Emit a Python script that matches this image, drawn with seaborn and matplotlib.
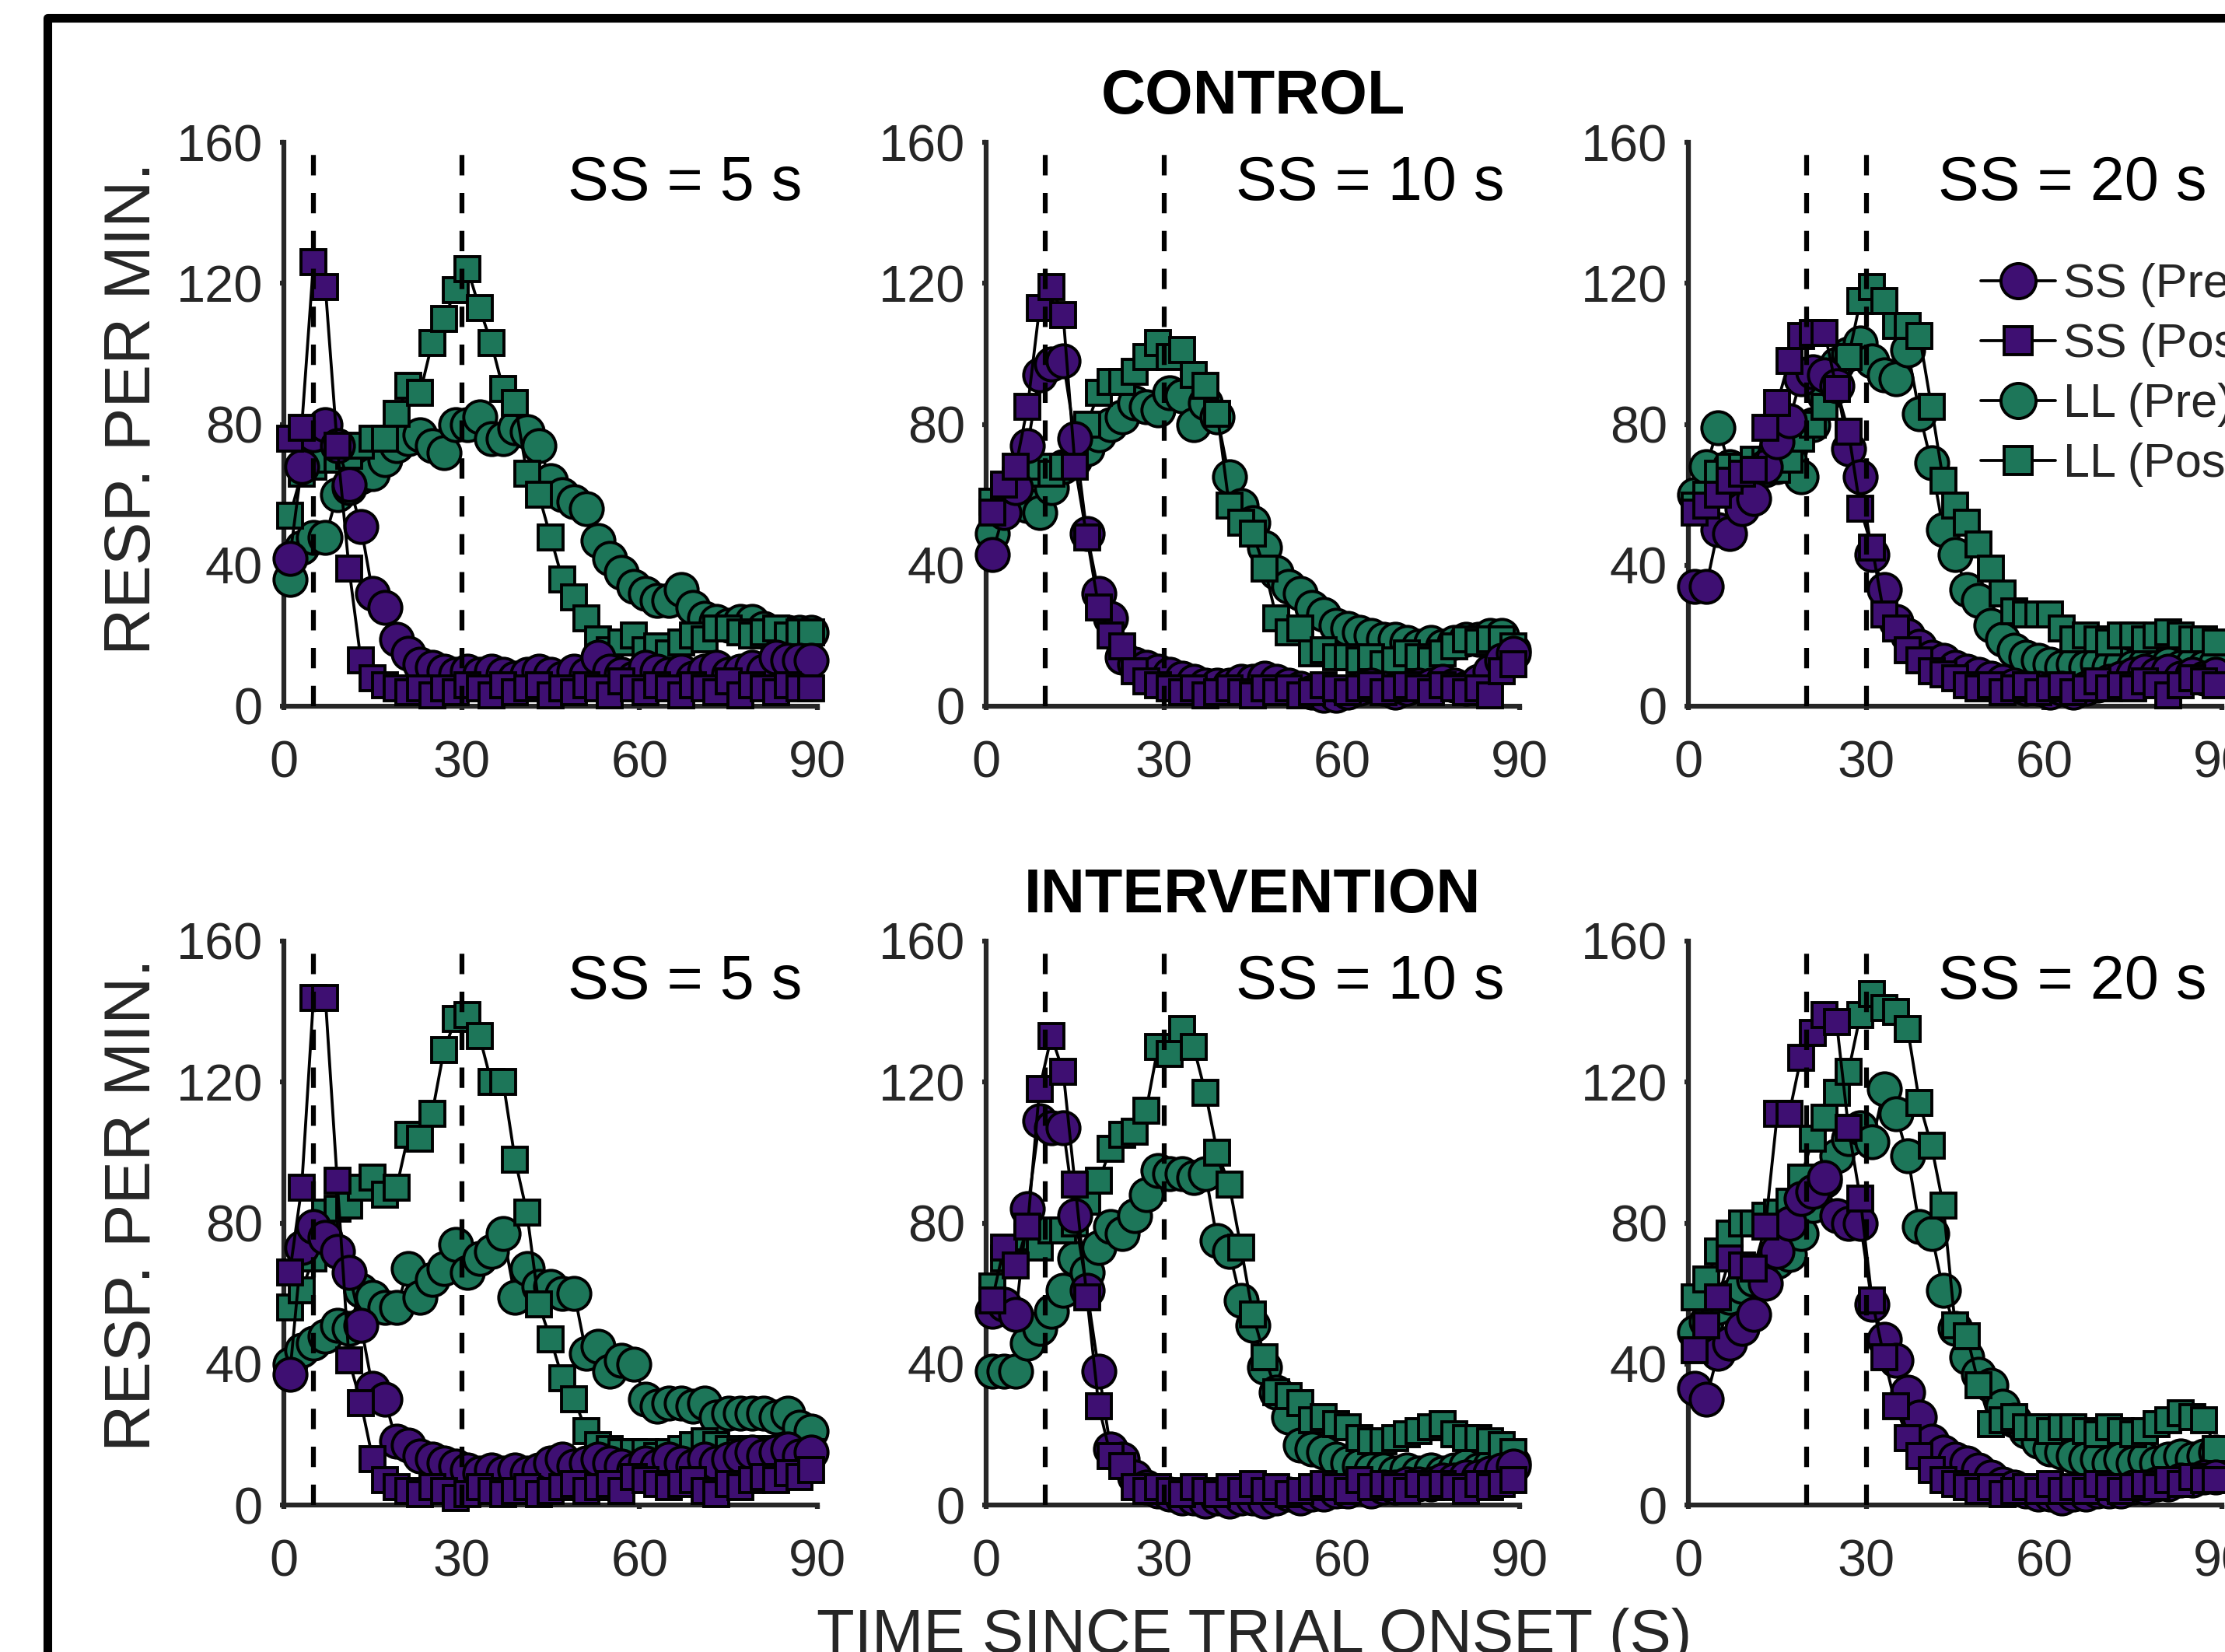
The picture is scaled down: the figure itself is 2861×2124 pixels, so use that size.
import matplotlib.pyplot as plt
from matplotlib.lines import Line2D
from matplotlib.patches import Rectangle
import pandas as pd
import seaborn as sns

# 2-s bins (bin centres, s)
time_s = [1, 3, 5, 7, 9, 11, 13, 15, 17,
          19, 21, 23, 25, 27, 29, 31, 33, 35,
          37, 39, 41, 43, 45, 47, 49, 51, 53,
          55, 57, 59, 61, 63, 65, 67, 69, 71,
          73, 75, 77, 79, 81, 83, 85, 87, 89]

# CONTROL, SS = 5 s
ctrl5_ss_pre = [42, 68, 77, 80, 74, 63, 51, 32, 28,
                19, 15, 12, 11, 10, 9, 10, 9, 10,
                9, 8, 9, 10, 9, 8, 10, 9, 14,
                10, 9, 8, 11, 10, 9, 10, 8, 10,
                11, 9, 10, 11, 10, 14, 13, 13, 13]
ctrl5_ss_post = [76, 79, 126, 119, 74, 39, 13, 8, 6,
                 5, 4, 5, 3, 5, 4, 6, 5, 3,
                 6, 4, 5, 6, 3, 5, 4, 6, 5,
                 3, 7, 5, 4, 6, 5, 3, 6, 5,
                 4, 7, 3, 6, 5, 4, 6, 5, 5]
ctrl5_ll_pre = [36, 45, 48, 48, 60, 62, 65, 66, 70,
                74, 76, 77, 74, 72, 80, 80, 82, 76,
                76, 79, 78, 74, 64, 60, 58, 56, 47,
                42, 38, 34, 32, 30, 30, 33, 28, 25,
                24, 23, 24, 24, 22, 21, 21, 21, 21]
ctrl5_ll_post = [54, 66, 68, 70, 70, 71, 74, 76, 76,
                 83, 91, 89, 103, 110, 118, 124, 113, 103,
                 90, 86, 66, 60, 48, 36, 31, 25, 19,
                 16, 18, 20, 16, 17, 15, 18, 20, 19,
                 22, 22, 21, 20, 21, 22, 20, 21, 21]

# CONTROL, SS = 10 s
ctrl10_ss_pre = [43, 55, 62, 74, 94, 97, 98, 76, 49,
                 32, 25, 14, 12, 11, 10, 9, 8, 7,
                 6, 6, 6, 7, 7, 8, 7, 6, 5,
                 4, 3, 3, 4, 5, 6, 5, 4, 5,
                 6, 6, 7, 6, 5, 7, 10, 13, 15]
ctrl10_ss_post = [55, 63, 68, 85, 113, 119, 111, 68, 48,
                  28, 20, 17, 10, 7, 6, 5, 4, 5,
                  3, 4, 5, 4, 3, 5, 4, 5, 3,
                  4, 6, 5, 4, 5, 6, 4, 5, 6,
                  5, 4, 6, 5, 4, 5, 3, 10, 12]
ctrl10_ll_pre = [49, 58, 60, 57, 55, 62, 68, 70, 73,
                 77, 80, 82, 86, 85, 84, 89, 88, 80,
                 86, 82, 65, 57, 52, 45, 38, 34, 32,
                 28, 26, 23, 22, 21, 20, 19, 19, 18,
                 17, 18, 17, 18, 19, 19, 20, 20, 16]
ctrl10_ll_post = [58, 62, 64, 66, 68, 66, 68, 70, 80,
                  89, 92, 92, 95, 99, 103, 99, 101, 94,
                  91, 83, 57, 52, 49, 39, 25, 21, 22,
                  15, 16, 14, 14, 13, 14, 12, 13, 15,
                  14, 13, 15, 17, 19, 18, 19, 19, 17]

# CONTROL, SS = 20 s
ctrl20_ss_pre = [34, 34, 50, 49, 56, 59, 68, 75, 81,
                 93, 95, 94, 91, 73, 65, 43, 33, 24,
                 20, 17, 14, 13, 11, 10, 9, 8, 7,
                 6, 5, 5, 4, 5, 4, 5, 6, 7,
                 8, 9, 10, 9, 10, 8, 9, 8, 9]
ctrl20_ss_post = [55, 57, 60, 64, 66, 67, 79, 86, 98,
                  105, 106, 106, 90, 78, 56, 45, 26, 22,
                  16, 13, 10, 9, 8, 6, 5, 6, 4,
                  5, 6, 4, 5, 6, 4, 5, 7, 5,
                  6, 5, 7, 6, 3, 6, 8, 7, 6]
ctrl20_ll_pre = [60, 68, 79, 68, 66, 66, 67, 68, 70,
                 65, 80, 88, 97, 100, 103, 98, 94, 93,
                 101, 83, 69, 50, 43, 33, 30, 23, 19,
                 16, 14, 13, 12, 11, 12, 11, 12, 11,
                 12, 11, 12, 11, 12, 11, 12, 11, 12]
ctrl20_ll_post = [57, 60, 66, 68, 68, 70, 70, 67, 70,
                  76, 80, 85, 92, 99, 115, 119, 115, 108,
                  108, 105, 85, 64, 57, 52, 46, 39, 32,
                  27, 26, 26, 26, 22, 19, 20, 19, 18,
                  20, 20, 19, 20, 21, 20, 19, 19, 18]

# INTERVENTION, SS = 5 s
int5_ss_pre = [37, 73, 79, 76, 72, 66, 51, 33, 30,
               18, 17, 14, 13, 12, 11, 10, 9, 10,
               9, 10, 9, 10, 12, 13, 11, 12, 13,
               12, 11, 10, 12, 11, 13, 12, 11, 13,
               12, 13, 14, 15, 14, 15, 16, 14, 15]
int5_ss_post = [66, 90, 144, 144, 92, 41, 29, 13, 7,
                5, 4, 3, 5, 4, 2, 3, 5, 4,
                3, 4, 5, 3, 4, 5, 6, 4, 5,
                6, 4, 8, 7, 6, 5, 6, 7, 4,
                3, 6, 5, 7, 8, 7, 9, 8, 10]
int5_ll_pre = [40, 44, 46, 48, 51, 50, 61, 59, 56,
               56, 67, 59, 64, 67, 74, 66, 70, 72,
               77, 59, 67, 62, 62, 60, 60, 43, 45,
               38, 41, 40, 30, 28, 29, 29, 28, 29,
               25, 26, 26, 26, 26, 25, 26, 22, 21]
int5_ll_post = [56, 61, 70, 83, 84, 85, 90, 93, 88,
                90, 105, 104, 111, 129, 138, 139, 133, 120,
                120, 98, 83, 57, 47, 36, 30, 21, 17,
                16, 15, 15, 15, 14, 15, 16, 17, 18,
                17, 16, 15, 16, 15, 16, 15, 14, 15]

# INTERVENTION, SS = 10 s
int10_ss_pre = [55, 57, 54, 84, 109, 107, 107, 82, 61,
                38, 16, 13, 8, 5, 4, 3, 2, 2,
                1, 2, 1, 2, 2, 1, 2, 3, 2,
                3, 3, 4, 4, 5, 4, 5, 5, 6,
                6, 6, 7, 7, 8, 8, 9, 10, 11]
int10_ss_post = [58, 73, 68, 79, 118, 133, 123, 91, 59,
                 28, 14, 11, 5, 4, 5, 4, 3, 5,
                 4, 3, 5, 4, 6, 4, 5, 3, 4,
                 5, 6, 5, 4, 7, 5, 6, 5, 4,
                 6, 5, 6, 5, 4, 6, 5, 6, 7]
int10_ll_pre = [38, 38, 38, 46, 50, 55, 61, 70, 66,
                73, 79, 77, 82, 88, 95, 94, 94, 93,
                94, 75, 72, 58, 51, 39, 32, 25, 17,
                16, 15, 13, 12, 11, 10, 10, 9, 10,
                9, 10, 9, 10, 11, 10, 11, 11, 12]
int10_ll_post = [62, 70, 72, 76, 73, 78, 78, 80, 86,
                 92, 101, 105, 106, 112, 130, 128, 135, 130,
                 117, 100, 91, 73, 54, 42, 32, 31, 29,
                 24, 25, 23, 22, 19, 18, 18, 19, 20,
                 21, 22, 23, 20, 19, 19, 18, 17, 15]

# INTERVENTION, SS = 20 s
int20_ss_pre = [33, 30, 43, 46, 50, 54, 63, 72, 80,
                87, 89, 93, 82, 80, 80, 57, 47, 41,
                32, 25, 18, 15, 13, 12, 10, 8, 6,
                5, 4, 3, 3, 2, 3, 3, 4, 4,
                4, 5, 5, 6, 6, 7, 7, 8, 8]
int20_ss_post = [44, 51, 59, 70, 68, 67, 79, 111, 111,
                 127, 134, 139, 137, 107, 87, 58, 42, 28,
                 19, 14, 10, 7, 6, 5, 4, 5, 3,
                 4, 5, 4, 6, 4, 5, 4, 6, 5,
                 4, 5, 6, 5, 7, 6, 8, 7, 7]
int20_ll_pre = [49, 52, 56, 59, 62, 64, 67, 69, 71,
                77, 85, 92, 99, 104, 107, 103, 118, 111,
                99, 79, 77, 61, 50, 42, 37, 34, 28,
                24, 21, 18, 16, 15, 14, 13, 13, 12,
                13, 12, 13, 12, 13, 14, 13, 14, 15]
int20_ll_post = [59, 64, 72, 77, 80, 80, 82, 83, 86,
                 93, 104, 110, 117, 123, 139, 145, 141, 140,
                 135, 114, 102, 85, 51, 48, 34, 23, 24,
                 25, 22, 22, 21, 22, 22, 21, 20, 22,
                 21, 20, 21, 23, 24, 26, 25, 24, 16]

ss_delays = [5, 10, 20]
lever_delay = 30
row_titles = ["CONTROL", "INTERVENTION"]
series_labels = ["SS (Pre)", "SS (Post)", "LL (Pre)", "LL (Post)"]

panels = [
    [(ctrl5_ss_pre, ctrl5_ss_post, ctrl5_ll_pre, ctrl5_ll_post),
     (ctrl10_ss_pre, ctrl10_ss_post, ctrl10_ll_pre, ctrl10_ll_post),
     (ctrl20_ss_pre, ctrl20_ss_post, ctrl20_ll_pre, ctrl20_ll_post)],
    [(int5_ss_pre, int5_ss_post, int5_ll_pre, int5_ll_post),
     (int10_ss_pre, int10_ss_post, int10_ll_pre, int10_ll_post),
     (int20_ss_pre, int20_ss_post, int20_ll_pre, int20_ll_post)],
]

PURPLE = "#3e0f72"
GREEN = "#1d7659"
INK = "#262626"

sns.set_theme(style="ticks")
plt.rcParams["font.family"] = ["Liberation Sans", "DejaVu Sans"]
plt.rcParams["axes.linewidth"] = 4.5
plt.rcParams["axes.edgecolor"] = INK

W, H = 2861, 2124
fig = plt.figure(figsize=(W / 100, H / 100), dpi=100)

col_left = [365, 1268, 2171]
row_bottom = [908, 1935]
ax_w, ax_h = 686, 725

# (face colour, marker, marker size) per series; LL drawn first so SS sits on top
styles = {
    "SS (Pre)": (PURPLE, "o", 30.5),
    "SS (Post)": (PURPLE, "s", 23.5),
    "LL (Pre)": (GREEN, "o", 30.5),
    "LL (Post)": (GREEN, "s", 23.5),
}
draw_order = [2, 3, 0, 1]
line_w = 2.7
edge_w = 2.8

for r in range(2):
    for c in range(3):
        ax = fig.add_axes([col_left[c] / W, 1 - row_bottom[r] / H, ax_w / W, ax_h / H])
        values = panels[r][c]
        for i in draw_order:
            label = series_labels[i]
            face, marker, size = styles[label]
            df = pd.DataFrame({"t": time_s, "rate": values[i]})
            sns.lineplot(data=df, x="t", y="rate", ax=ax, color="black", lw=line_w,
                         marker=marker, markersize=size, markerfacecolor=face,
                         markeredgecolor="black", markeredgewidth=edge_w,
                         clip_on=False, zorder=3, legend=False)
        for xv in (ss_delays[c], lever_delay):
            ax.axvline(xv, ymin=0, ymax=1, color="black", lw=4.5,
                       ls=(0, (4.2, 3.6)), zorder=5)
        ax.set_xlim(0, 90)
        ax.set_ylim(0, 160)
        ax.set_xticks([0, 30, 60, 90])
        ax.set_yticks([0, 40, 80, 120, 160])
        ax.set_xlabel("")
        ax.set_ylabel("")
        ax.tick_params(axis="both", direction="out", length=3.6, width=4.5,
                       color=INK, labelsize=48, labelcolor=INK)
        ax.tick_params(axis="x", pad=28)
        ax.tick_params(axis="y", pad=16)
        sns.despine(ax=ax)
        ax.text(0.972, 0.898, f"SS = {ss_delays[c]} s", transform=ax.transAxes,
                ha="right", va="baseline", fontsize=57, color="black")

        if r == 0 and c == 2:
            handles = [
                Line2D([], [], color="black", lw=line_w, marker=styles[lab][1],
                       markersize=styles[lab][2] + 2, markerfacecolor=styles[lab][0],
                       markeredgecolor="black", markeredgewidth=edge_w)
                for lab in series_labels
            ]
            ax.legend(handles, series_labels, loc="upper left",
                      bbox_to_anchor=(2547 / W, 1 - 338 / H),
                      bbox_transform=fig.transFigure, frameon=False,
                      fontsize=44, handlelength=1.57, handletextpad=0.16,
                      labelspacing=0.33, borderpad=0, borderaxespad=0)

# row headings and shared labels
fig.text(1611 / W, 1 - 146 / H, row_titles[0], ha="center", va="baseline",
         fontsize=57, fontweight="bold", color="black")
fig.text(1611 / W, 1 - 1173 / H, row_titles[1], ha="center", va="baseline",
         fontsize=57, fontweight="bold", color="black")
for yc in (525, 1549):
    fig.text(171 / W, 1 - yc / H, "RESP. PER MIN.", rotation=90, ha="center",
             va="center", fontsize=60, color=INK)
fig.text(1613 / W, 1 - 2125 / H, "TIME SINCE TRIAL ONSET (S)", ha="center",
         va="baseline", fontsize=57.5, color=INK)

# thick frame around the whole figure (right and bottom edges fall outside)
fig.add_artist(Rectangle((61 / W, -0.2), 1.3, 1.2 - 22.5 / H, transform=fig.transFigure,
                         fill=False, lw=8, edgecolor="black", joinstyle="round"))

fig.savefig("out.png", dpi=100)
